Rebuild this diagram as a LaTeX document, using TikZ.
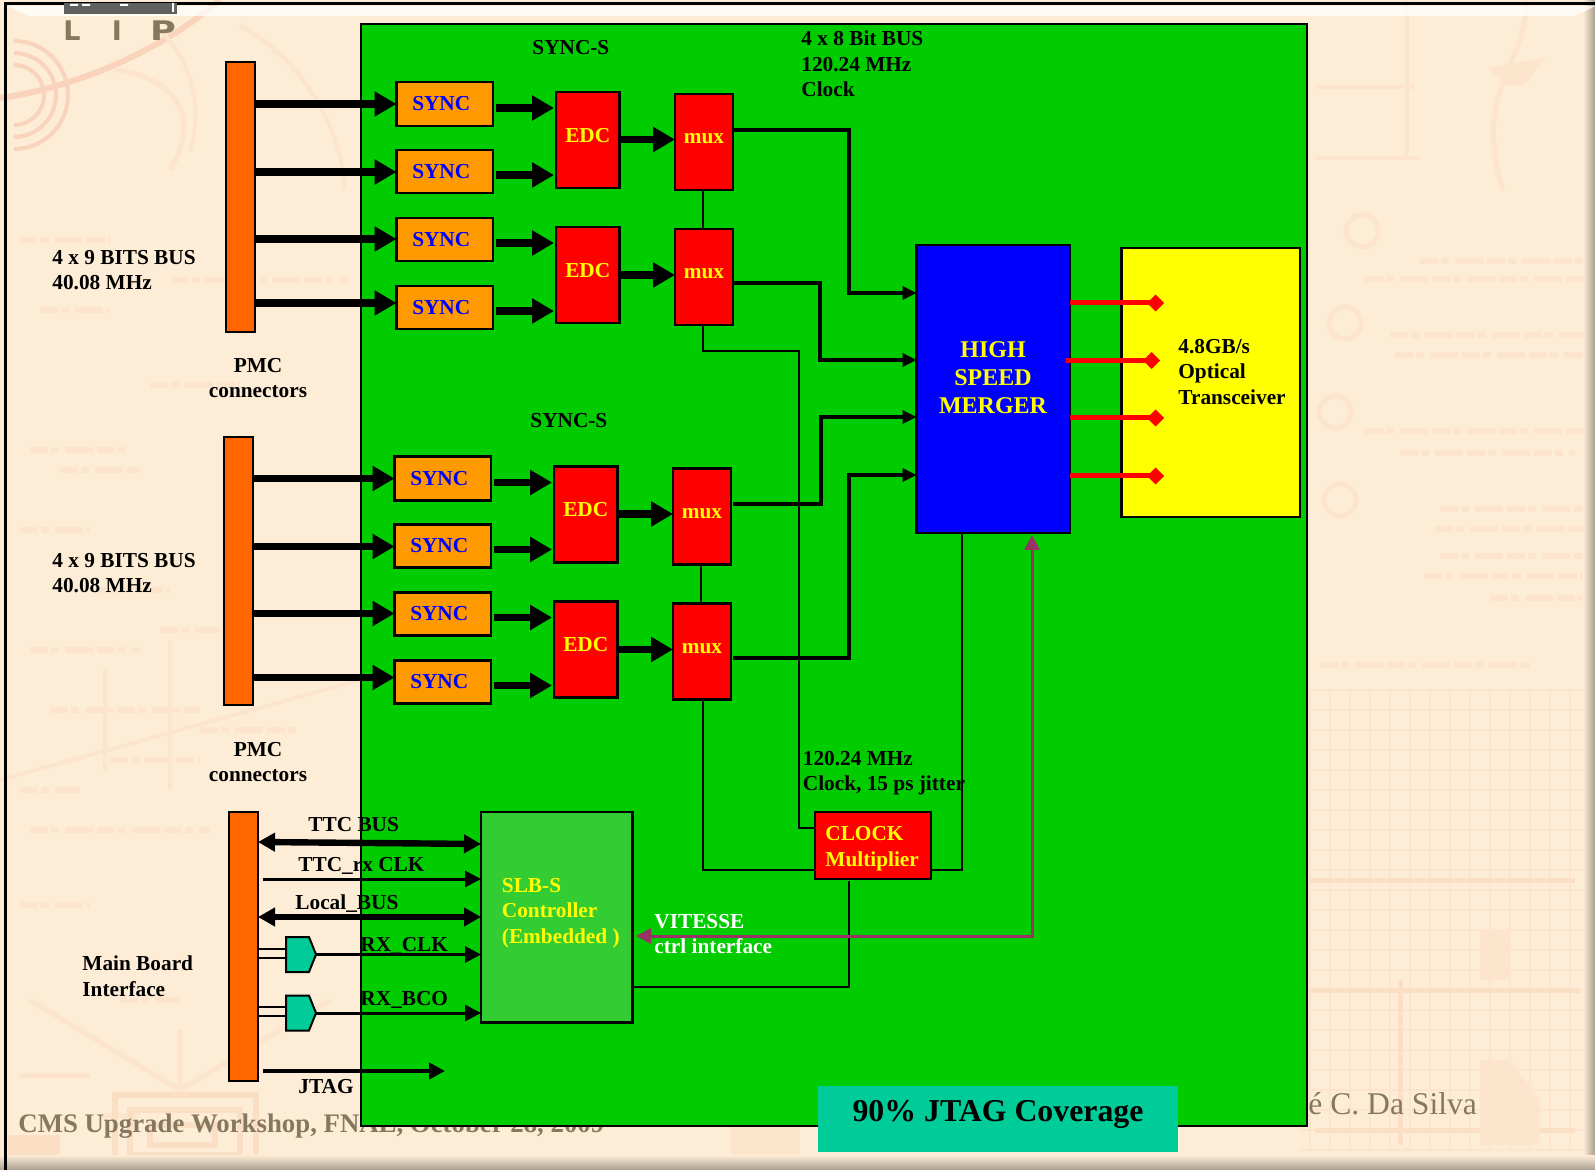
\documentclass[tikz,border=0pt]{standalone}
\usepackage{fontspec}
\setmainfont{Liberation Serif}
\newfontfamily\logofont{DejaVu Sans}
\usetikzlibrary{arrows.meta,calc,shapes.symbols}
\definecolor{paper}{HTML}{FEEDD6}
\definecolor{wm}{HTML}{FCE5CC}
\definecolor{wmd}{HTML}{FBDFC5}
\definecolor{wmp}{HTML}{FAD3BC}
\definecolor{cyel}{HTML}{FFFF00}
\definecolor{cgreen}{HTML}{00CC00}
\definecolor{cbar}{HTML}{FF6600}
\definecolor{csync}{HTML}{FF9900}
\definecolor{cslb}{HTML}{33CC33}
\definecolor{cteal}{HTML}{00CC99}
\definecolor{cmag}{HTML}{993366}
\definecolor{cfoot}{HTML}{85785F}
\definecolor{cedge}{HTML}{A89F90}
\tikzset{
  x=0.5pt,y=-0.5pt,
  box/.style={draw=black,line width=1.25pt,inner sep=0pt,outer sep=0pt,font=\bfseries\fontsize{10.65}{12.8}\selectfont},
  barbox/.style={box,fill=cbar},
  syncbox/.style={box,fill=csync,text=blue},
  redbox/.style={box,fill=red,text=cyel},
  lbl/.style={font=\bfseries\fontsize{10.65}{12.8}\selectfont,align=left,inner sep=0pt,anchor=west,text=black},
  logo/.style={font=\logofont\bfseries\fontsize{13.5}{14}\selectfont,text=cfoot,inner sep=0pt},
  heavy/.style={line width=3.6pt,-{Triangle[length=11pt,width=12pt]}},
  heavyb/.style={line width=3.2pt,{Triangle[length=8.5pt,width=9pt]}-{Triangle[length=8.5pt,width=9pt]}},
  wire/.style={line width=1.9pt,-{Triangle[length=7pt,width=6.5pt]},line join=miter},
  thin/.style={line width=1pt,line join=miter},
  redline/.style={line width=2.5pt,red,-{Diamond[length=8.5pt,width=8.5pt]}},
  sig/.style={line width=1.5pt,-{Triangle[length=8pt,width=8pt]}},
  gate/.style={draw=black,line width=1pt,fill=cteal,signal,signal to=east,signal pointer angle=136,inner sep=0pt,outer sep=0pt,minimum width=15pt,minimum height=17.5pt},
  wmline/.style={wm,line width=1.2pt},
  scrib/.style={wm,line width=3pt,dash pattern=on 9pt off 1.5pt on 4pt off 3pt on 14pt off 2pt},
}
\newcommand{\bx}[7]{%
  \pgfmathsetlengthmacro{\bw}{(#5-#3)*0.5pt}%
  \pgfmathsetlengthmacro{\bh}{(#6-#4)*0.5pt}%
  \pgfmathsetmacro{\bcx}{(#3+#5)/2}%
  \pgfmathsetmacro{\bcy}{(#4+#6)/2}%
  \node[#2,minimum width=\bw,minimum height=\bh] (#1) at (\bcx,\bcy) {#7};}
\begin{document}
\begin{tikzpicture}
\useasboundingbox (0,0) rectangle (1595,1170);
% paper
\fill[paper] (0,0) rectangle (1595,1170);
% watermark: sketch top left
\draw[wmp,line width=3pt] (0,98) .. controls (60,90) and (150,60) .. (220,0);
\foreach \wr in {30,42,54}
  \draw[wmp,line width=2pt] (14,{95-\wr}) arc[start angle=-90,end angle=90,radius=\wr];
\draw[wm,line width=2.5pt] (115,70) .. controls (190,80) and (195,130) .. (170,170);
\draw[wm,line width=2pt] (160,30) .. controls (200,70) and (200,120) .. (190,150);
\draw[wm,line width=2pt] (240,25) .. controls (300,60) and (340,120) .. (345,190);
% watermark: sketch top right
\draw[wm,line width=2pt] (1407,0) -- (1407,160);
\draw[wm,line width=2pt] (1315,87) -- (1415,87) (1315,158) -- (1420,158);
\draw[wm,line width=2.5pt] (1527,0) .. controls (1525,40) and (1510,60) .. (1503,85) .. controls (1490,110) and (1490,150) .. (1503,190);
\fill[wm] (1488,68) -- (1545,58) -- (1525,85) -- (1505,85) -- cycle;
% watermark: handwriting
\foreach \wx/\wy/\wl in {1420/261/175,1365/279/225,1390/335/195,1395/355/190,1365/431/220,1400/453/175,1440/509/145,1435/529/155,1440/556/150,1425/576/165,1490/598/100,1320/665/210}
  \draw[scrib] (\wx,\wy) -- ++(\wl,0);
\foreach \wx/\wy/\wl in {20/240/90,170/280/180,40/310/70,30/450/100,60/470/80,150/385/90,20/530/70,100/590/70,30/650/110,160/630/60,50/710/150,200/730/100,20/790/60,110/760/90,30/830/180,20/905/70,120/1000/60}
  \draw[scrib] (\wx,\wy) -- ++(\wl,0);
\foreach \cx/\cy in {1362/231,1345/323,1335/412,1340/500}
  \draw[wm,line width=2.5pt] (\cx,\cy) circle (16);
\draw[wm,line width=2pt] (0,780) -- (360,680) (105,670) -- (105,770) (170,640) -- (170,790);
% watermark: grids lower right and lower left
\foreach \gx in {1310,1330,...,1590} \draw[wmline] (\gx,690) -- (\gx,1150);
\foreach \gy in {690,710,...,1150} \draw[wmline] (1300,\gy) -- (1590,\gy);
\draw[wmd,line width=2.5pt] (1310,880) -- (1575,880) (1310,990) -- (1580,990) (1315,1130) -- (1575,1130) (1400,980) -- (1400,1145);
\fill[wm] (1480,1060) -- (1510,1060) -- (1540,1100) -- (1540,1145) -- (1480,1145) -- cycle;
\fill[wm] (1480,930) -- (1510,930) -- (1510,980) -- (1480,980) -- cycle;
\draw[wm,line width=2.5pt] (30,1000) -- (180,1090) (330,1000) -- (180,1090) (180,1030) -- (180,1090);
\draw[wm,line width=2.5pt] (20,1075) -- (90,1075) (100,1115) -- (140,1115);
\draw[wmd,line width=3pt] (115,1095) rectangle (256,1168) (130,1110) rectangle (240,1155) (150,1125) rectangle (215,1145);
\fill[wmd] (8,1135) rectangle (60,1165);
\fill[wm] (730,1126) rectangle (800,1160);
% frame
\shade[left color=paper,right color=cedge] (1583,0) rectangle (1595,1170);
\shade[top color=paper,bottom color=cedge] (0,1155) rectangle (1595,1170);
\fill[white,opacity=.75] (8,6) -- (1595,6) -- (1575,16) -- (28,16) -- cycle;
\draw[black,line width=1.5pt] (5.5,1170) -- (5.5,4) -- (1595,4);
% logo
\fill[gray!75!black] (64,3) rectangle (177,14);
\fill[white] (70,4) rectangle (78,6) (82,4) rectangle (90,6) (120,4) rectangle (128,6) (172,3) rectangle (174,12);
\node[logo] (logoL) at (72,31) {L};
\node[logo] (logoI) at (117,31) {I};
\node[logo,xscale=1.3] (logoP) at (163,31) {P};
% footer (partly behind the green panel)
\node[font=\bfseries\fontsize{13.4}{14}\selectfont,text=cfoot,inner sep=0pt,anchor=west] (footA) at (18,1126) {CMS Upgrade Workshop, FNAL, October 28, 2009};
\node[font=\fontsize{15.8}{16}\selectfont,text=cfoot,inner sep=0pt,anchor=west] (footB) at (1308,1104) {é C. Da Silva};
% panel
\bx{panel}{box,fill=cgreen}{361}{24}{1307}{1126}{}
% connector bars
\bx{barA}{barbox}{226}{62}{255}{332}{}
\bx{barB}{barbox}{224}{437}{253}{705}{}
\bx{barC}{barbox}{229}{812}{258}{1081}{}
% sync groups
\foreach \g/\dx/\dy in {A/0/0,B/-2/374.5}{
  \pgfmathsetmacro{\xa}{396.5+\dx}\pgfmathsetmacro{\xb}{493+\dx}
  \pgfmathsetmacro{\xc}{556+\dx}\pgfmathsetmacro{\xd}{619.5+\dx}
  \pgfmathsetmacro{\xe}{675+\dx}\pgfmathsetmacro{\xf}{733+\dx}
  \foreach \r/\ya/\yb in {1/82/126,2/150/193,3/218/261,4/286/329}{
    \pgfmathsetmacro{\yy}{\ya+\dy}\pgfmathsetmacro{\yz}{\yb+\dy}
    \bx{sync\g\r}{syncbox}{\xa}{\yy}{\xb}{\yz}{\kern-3.5pt\raisebox{-1pt}{SYNC}}
  }
  \pgfmathsetmacro{\yy}{92+\dy}\pgfmathsetmacro{\yz}{188+\dy}
  \bx{edc\g1}{redbox}{\xc}{\yy}{\xd}{\yz}{\raisebox{5pt}{EDC}}
  \pgfmathsetmacro{\yy}{227+\dy}\pgfmathsetmacro{\yz}{323+\dy}
  \bx{edc\g2}{redbox}{\xc}{\yy}{\xd}{\yz}{\raisebox{5pt}{EDC}}
  \pgfmathsetmacro{\yy}{94+\dy}\pgfmathsetmacro{\yz}{190+\dy}
  \bx{mux\g1}{redbox}{\xe}{\yy}{\xf}{\yz}{\raisebox{3.5pt}{mux}}
  \pgfmathsetmacro{\yy}{229+\dy}\pgfmathsetmacro{\yz}{325+\dy}
  \bx{mux\g2}{redbox}{\xe}{\yy}{\xf}{\yz}{\raisebox{3.5pt}{mux}}
  % bar to sync
  \foreach \r/\yr in {1/104,2/172,3/239,4/303}{
    \pgfmathsetmacro{\yy}{\yr+\dy}
    \draw[heavy] (bar\g.east |- 0,\yy) -- (sync\g\r.west |- 0,\yy);
  }
  % sync to edc
  \foreach \r/\e/\yr in {1/1/108,2/1/175,3/2/243,4/2/311}{
    \pgfmathsetmacro{\yy}{\yr+\dy}
    \draw[heavy] ([xshift=1.5pt]sync\g\r.east |- 0,\yy) -- ([xshift=-1pt]edc\g\e.west |- 0,\yy);
  }
  % edc to mux
  \foreach \e/\yr in {1/139.5,2/275}{
    \pgfmathsetmacro{\yy}{\yr+\dy}
    \draw[heavy] (edc\g\e.east |- 0,\yy) -- (mux\g\e.west |- 0,\yy);
  }
  \draw[thin] ([xshift=-.5pt]mux\g1.south) -- ([xshift=-.5pt]mux\g2.north);
}
% merger and transceiver
\bx{merger}{box,fill=blue}{916.5}{245}{1070}{533}{}
\bx{trans}{box,fill=cyel}{1121.5}{248}{1300}{517}{}
\node[font=\bfseries\fontsize{12}{14}\selectfont,align=center,text=cyel,inner sep=0pt] (mergerT) at (993,378) {HIGH\\SPEED\\MERGER};
% clock and controller
\bx{clock}{redbox}{815}{812}{931}{879}{}
\bx{slb}{box,fill=cslb}{481}{812}{632.5}{1022.5}{}
% thin clock distribution
\draw[thin] ([xshift=-.5pt]muxA2.south) |- (799,351) |- (clock.west |- 0,828);
\draw[thin] ([xshift=.5pt]muxB2.south) |- (clock.west |- 0,870);
\draw[thin] (clock.east |- 0,870) -| (962,870) -- (merger.south -| 962,0);
\draw[thin,line width=1.2pt] (849,881) |- (slb.east |- 0,987);
% mux to merger
\draw[wire] (muxA1.east |- 0,130) -| (849,293) -- (merger.west |- 0,293);
\draw[wire] (muxA2.east |- 0,283) -| (820,360) -- (merger.west |- 0,360);
\draw[wire] ([xshift=1pt]muxB1.east |- 0,504) -| (821,417) -- (merger.west |- 0,417);
\draw[wire] ([xshift=1pt]muxB2.east |- 0,658) -| (849,475) -- (merger.west |- 0,475);
% merger to transceiver
\coordinate (redA) at (1164,303);
\coordinate (redB) at (1160,360.5);
\coordinate (redC) at (1164,418);
\coordinate (redD) at (1164,476);
\draw[redline] (merger.east |- redA) -- (redA);
\draw[redline] (1066,360.5) -- (redB);
\draw[redline] (merger.east |- redC) -- (redC);
\draw[redline] (merger.east |- redD) -- (redD);
% vitesse control
\coordinate (vitA) at (1032,535);
\coordinate (vitB) at (636,936);
\draw[cmag,line width=1.5pt,{Triangle[length=7.5pt,width=7.5pt]}-{Triangle[length=7.5pt,width=7.5pt]},line join=miter] (vitA) |- (vitB);
% main board interface
\node[gate] (gateA) at (297.5,954.5) {};
\node[gate] (gateB) at (297.5,1013) {};
\draw[line width=1pt] (barC.east |- 0,949) -- (gateA.west |- 0,949);
\draw[line width=1pt] (barC.east |- 0,958) -- (gateA.west |- 0,958);
\draw[line width=1pt] (barC.east |- 0,1007) -- (gateB.west |- 0,1007);
\draw[line width=1pt] (barC.east |- 0,1016) -- (gateB.west |- 0,1016);
\coordinate (rxA) at (263,879);
\coordinate (jtagS) at (263,1071);
\coordinate (jtagE) at (445,1071);
\draw[heavyb] (barC.east |- 0,842) -- (slb.west |- 0,844);
\draw[sig] (rxA) -- (slb.west |- rxA);
\draw[heavyb] (barC.east |- 0,917) -- (slb.west |- 0,917);
\draw[sig] (gateA.east) -- (slb.west |- gateA.east);
\draw[sig] (gateB.east) -- (slb.west |- gateB.east);
\draw[line width=2pt,-{Triangle[length=8pt,width=8pt]}] (jtagS) -- (jtagE);
% labels
\node[lbl] (tSyncA) at (532,48) {SYNC-S};
\node[lbl] (tSyncB) at (530,421) {SYNC-S};
\node[lbl] (tBus8) at (801,64) {4 x 8 Bit BUS\\120.24 MHz\\Clock};
\node[lbl] (tBusA) at (52,270) {4 x 9 BITS BUS\\40.08 MHz};
\node[lbl] (tBusB) at (52,573) {4 x 9 BITS BUS\\40.08 MHz};
\node[lbl,align=center,anchor=center] (tPmcA) at (258,378) {PMC\\connectors};
\node[lbl,align=center,anchor=center] (tPmcB) at (258,762) {PMC\\connectors};
\node[lbl] (tMain) at (82,976.5) {Main Board\\Interface};
\node[lbl] (tTtc) at (308,825) {TTC BUS};
\node[lbl] (tTtcRx) at (298,866) {TTC\_rx CLK};
\node[lbl] (tLocal) at (295,904) {Local\_BUS};
\node[lbl] (tRxClk) at (360,946) {RX\_CLK};
\node[lbl] (tRxBco) at (360,1000) {RX\_BCO};
\node[lbl] (tJtag) at (298,1087) {JTAG};
\node[lbl,text=cyel] (tSlb) at (501.5,913) {SLB-S\\Controller\\(Embedded )};
\node[lbl,text=white] (tVit) at (654,934) {VITESSE\\ctrl interface};
\node[lbl,text=cyel] (tClock) at (825,848.5) {CLOCK\\Multiplier};
\node[lbl] (tClk) at (802.5,773) {120.24 MHz\\Clock, 15 ps jitter};
\node[lbl] (tOpt) at (1178,372) {4.8GB/s\\Optical\\Transceiver};
% coverage banner
\bx{cover}{fill=cteal,inner sep=0pt,outer sep=0pt}{818}{1086}{1178}{1152}{}
\node[font=\bfseries\fontsize{15.9}{18}\selectfont,inner sep=0pt] (tCover) at (998,1114) {90\% JTAG Coverage};
\end{tikzpicture}
\end{document}
